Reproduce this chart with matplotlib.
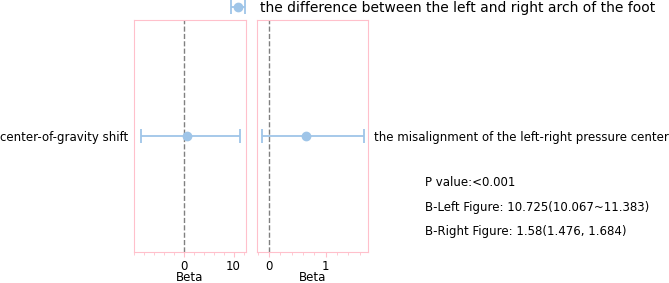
import matplotlib.pyplot as plt
from matplotlib.ticker import MultipleLocator, FixedLocator

# data
left_label = ["center-of-gravity shift"]
left_beta = [0.6]
left_lo = [-8.6]
left_hi = [11.3]

right_label = ["the misalignment of the left-right pressure center"]
right_beta = [0.66]
right_lo = [-0.13]
right_hi = [1.68]

legend_label = "the difference between the left and right arch of the foot"
notes = [
    "P value:<0.001",
    "B-Left Figure: 10.725(10.067~11.383)",
    "B-Right Figure: 1.58(1.476, 1.684)",
]

PINK = "#ffc0cb"
BLUE = "#9fc5e8"
FS = 8.5

fig = plt.figure(figsize=(6.69, 2.83), dpi=100)
W, H = 669, 283
ax1 = fig.add_axes([134 / W, 1 - 252 / H, 112 / W, 232 / H])
ax2 = fig.add_axes([257 / W, 1 - 252 / H, 111 / W, 232 / H])


def draw(ax, labels, beta, lo, hi, xlim, major, minor, ticks_right=False):
    y = list(range(len(labels)))
    err = [[b - l for b, l in zip(beta, lo)], [h - b for b, h in zip(beta, hi)]]
    h = ax.errorbar(beta, y, xerr=err, fmt="o", color=BLUE, ecolor=BLUE,
                    markersize=6, capsize=5, elinewidth=1.3, capthick=1.3)
    ax.axvline(0, color="gray", linestyle="--", linewidth=1)
    ax.set_xlim(*xlim)
    ax.set_ylim(-1, 1)
    ax.set_yticks(y)
    ax.set_yticklabels(labels, fontsize=FS)
    if ticks_right:
        ax.yaxis.tick_right()
    ax.tick_params(axis="y", length=0, pad=4)
    ax.xaxis.set_major_locator(FixedLocator(major))
    ax.xaxis.set_minor_locator(MultipleLocator(minor))
    ax.tick_params(axis="x", which="both", colors=PINK, labelcolor="black",
                   labelsize=FS, pad=2)
    ax.tick_params(axis="x", which="minor", length=2)
    ax.set_xlabel("Beta", fontsize=FS, labelpad=-1.5)
    for s in ax.spines.values():
        s.set_color(PINK)
    return h


h = draw(ax1, left_label, left_beta, left_lo, left_hi, (-10, 12.5), [0, 10], 2)
draw(ax2, right_label, right_beta, right_lo, right_hi, (-0.21, 1.75), [0, 1], 0.2,
     ticks_right=True)

fig.legend([h], [legend_label], loc="center left",
           bbox_to_anchor=(227.5 / W, 1 - 8 / H), borderpad=0, borderaxespad=0,
           frameon=False, fontsize=10, handlelength=1.5, handletextpad=0.85)

for i, t in enumerate(notes):
    fig.text(425 / W, 1 - (182 + 25 * i) / H, t, fontsize=FS, va="center", ha="left")

fig.savefig("out.png", dpi=100)
